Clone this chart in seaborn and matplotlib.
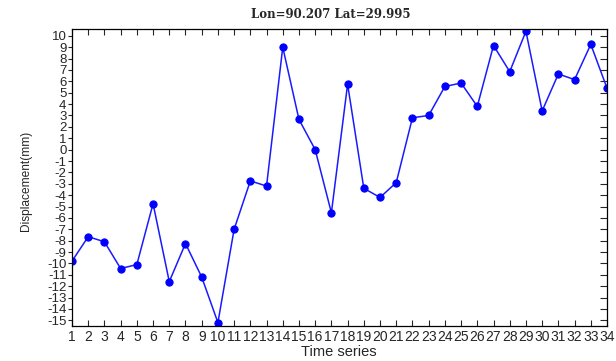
import matplotlib
matplotlib.use("Agg")
import matplotlib.pyplot as plt
import seaborn as sns
import pandas as pd

time_index = list(range(1, 35))
displacement = [-9.8, -7.65, -8.1, -10.45, -10.1, -4.75, -11.6, -8.25, -11.2, -15.2,
                -7.0, -2.75, -3.2, 9.0, 2.65, 0.0, -5.55, 5.75, -3.4, -4.2,
                -2.9, 2.8, 3.0, 5.55, 5.85, 3.8, 9.15, 6.85, 10.4, 3.4,
                6.65, 6.15, 9.25, 5.4]
y_ticks = list(range(-15, 11))
title_text = "Lon=90.207 Lat=29.995"
x_label = "Time series"
y_label = "Displacement(mm)"

df = pd.DataFrame({"t": time_index, "d": displacement})

sns.set_style("ticks")
plt.rcParams["font.family"] = ["Liberation Sans", "DejaVu Sans"]

fig = plt.figure(figsize=(6.16, 3.61), dpi=100)
ax = fig.add_axes([72/616, 1-326/361, (607-72)/616, (326-29)/361])

sns.lineplot(data=df, x="t", y="d", ax=ax, color="#1a1aff", linewidth=1.1,
             marker="o", markersize=5.2, markeredgecolor="#0000ff",
             markerfacecolor="#0000ff")

ax.set_xlim(1, 34)
ax.set_ylim(-15.5, 10.6)
ax.set_xticks(time_index)
ax.set_xticklabels([str(t) for t in time_index], fontsize=10)
ax.set_yticks(y_ticks)
ax.set_yticklabels([str(v) for v in y_ticks], fontsize=9.5)
ax.tick_params(axis="x", direction="in", top=True, length=4, pad=3, width=0.8)
ax.tick_params(axis="y", direction="out", length=3, pad=1, width=0.8)
ax.tick_params(axis="y", which="major", right=True)
for t in ax.yaxis.get_ticklines()[1::2]:
    t.set_marker(0)  # right ticks pointing inward
    t.set_markersize(5)
ax.set_xlabel("")
ax.set_ylabel("")
for s in ax.spines.values():
    s.set_visible(True)
    s.set_color("black")
    s.set_linewidth(0.9)

fig.text(331/616, 1-15/361, title_text, ha="center", va="center",
         fontsize=8.5, fontweight="bold", family=["DejaVu Serif"])
fig.text(339/616, 1-352/361, x_label, ha="center", va="center", fontsize=10.5)
fig.text(26/616, 1-181/361, y_label, ha="center", va="center", fontsize=8.6,
         rotation=90)

fig.savefig("out.png", dpi=100)
